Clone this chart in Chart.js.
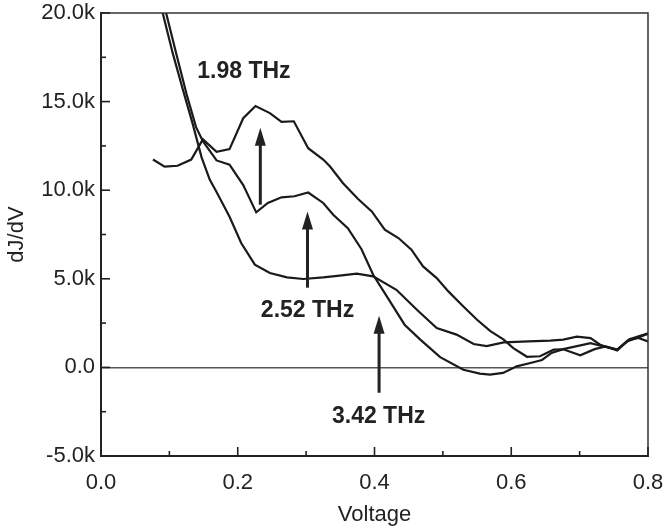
<!DOCTYPE html>
<html>
<head>
<meta charset="utf-8">
<script src="https://cdn.jsdelivr.net/npm/chart.js@4.4.0/dist/chart.umd.min.js"></script>
<style>
  html, body { margin: 0; padding: 0; background: #fff; }
  #chart { display: block; }
</style>
</head>
<body>
<canvas id="chart" width="666" height="530"></canvas>
<script>
// ---------- data ----------
// 1.98 THz
const voltA = [0.076, 0.093, 0.112, 0.132, 0.149, 0.169, 0.188, 0.208, 0.226, 0.247, 0.264, 0.282, 0.303, 0.325,
  0.335, 0.354, 0.376, 0.396, 0.415, 0.435, 0.454, 0.471, 0.491, 0.508, 0.530, 0.550, 0.569, 0.589, 0.603, 0.623,
  0.642, 0.662, 0.676, 0.701, 0.722, 0.738, 0.755, 0.772, 0.786, 0.800];
const dJdVA = [11730, 11330, 11380, 11730, 12870, 12170, 12320, 14060, 14750, 14350, 13860, 13890, 12370, 11730,
  11340, 10390, 9500, 8800, 7770, 7300, 6640, 5700, 5040, 4290, 3440, 2690, 2060, 1570, 1090, 600,
  630, 1000, 1020, 680, 1030, 1180, 1000, 1570, 1660, 1470];

// 2.52 THz
const voltB = [0.092, 0.110, 0.125, 0.139, 0.149, 0.169, 0.188, 0.208, 0.227, 0.244, 0.264, 0.283, 0.303, 0.325,
  0.340, 0.361, 0.381, 0.398, 0.421, 0.444, 0.467, 0.496, 0.530, 0.554, 0.569, 0.588, 0.608, 0.628, 0.645, 0.659,
  0.676, 0.716, 0.735, 0.755, 0.774, 0.800];
const dJdVB = [20500, 17720, 15440, 13560, 12770, 11680, 11440, 10290, 8750, 9280, 9600, 9660, 9870, 9280,
  8600, 7860, 6670, 5230, 3820, 2410, 1570, 580, -130, -350, -410, -310, 60, 250, 420, 820,
  1030, 1370, 1180, 1000, 1600, 1920];

// 3.42 THz
const voltC = [0.087, 0.105, 0.120, 0.134, 0.147, 0.159, 0.169, 0.188, 0.205, 0.225, 0.247, 0.272, 0.296, 0.325,
  0.349, 0.374, 0.398, 0.432, 0.462, 0.491, 0.520, 0.545, 0.564, 0.589, 0.625, 0.657, 0.676, 0.696, 0.716, 0.730,
  0.755, 0.769, 0.784, 0.800];
const dJdVC = [20500, 17720, 15640, 13760, 11870, 10600, 9900, 8500, 7020, 5800, 5330, 5080, 4990, 5080,
  5180, 5290, 5140, 4380, 3250, 2220, 1850, 1320, 1200, 1410, 1470, 1510, 1570, 1740, 1650, 1280,
  960, 1470, 1660, 1890];

// annotations, in data units
const noteText = ['1.98 THz', '2.52 THz', '3.42 THz'];
const noteX = [0.209, 0.302, 0.406];
const noteY = [16700, 3200, -2770];
const arrowX = [0.233, 0.302, 0.4067];
const arrowFrom = [9180, 4500, -1430];
const arrowTo = [13530, 8800, 2920];

const FONT = '"Liberation Sans", Arial, Helvetica, sans-serif';
const INK = '#222';

const pairs = (xs, ys) => xs.map((v, i) => ({ x: v, y: ys[i] }));
const lineSet = (xs, ys) => ({
  data: pairs(xs, ys),
  borderColor: '#1a1a1a',
  borderWidth: 2.2,
  pointRadius: 0,
  tension: 0,
  fill: false,
});

// ---------- frame, inward ticks, arrows, labels ----------
const decorations = {
  id: 'decorations',
  afterDraw(chart) {
    const { ctx, chartArea: a, scales: { x, y } } = chart;
    ctx.save();
    ctx.strokeStyle = '#333';
    ctx.lineWidth = 1.5;
    ctx.beginPath();
    ctx.moveTo(a.left, a.top);
    ctx.lineTo(a.right, a.top);
    ctx.lineTo(a.right, a.bottom);
    ctx.stroke();

    ctx.strokeStyle = INK;
    ctx.lineWidth = 1.6;
    y.ticks.forEach((t) => {
      const p = y.getPixelForValue(t.value);
      const len = Math.round(t.value) % 5000 === 0 ? 9 : 5;
      ctx.beginPath();
      ctx.moveTo(a.left, p);
      ctx.lineTo(a.left + len, p);
      ctx.stroke();
    });
    x.ticks.forEach((t) => {
      const p = x.getPixelForValue(t.value);
      const len = Math.round(t.value * 10) % 2 === 0 ? 9 : 5;
      ctx.beginPath();
      ctx.moveTo(p, a.bottom);
      ctx.lineTo(p, a.bottom - len);
      ctx.stroke();
    });

    // arrows
    ctx.fillStyle = INK;
    ctx.lineWidth = 3;
    arrowX.forEach((v, i) => {
      const px = x.getPixelForValue(v);
      const y0 = y.getPixelForValue(arrowFrom[i]);
      const y1 = y.getPixelForValue(arrowTo[i]);
      ctx.beginPath();
      ctx.moveTo(px, y0);
      ctx.lineTo(px, y1 + 12);
      ctx.stroke();
      ctx.beginPath();
      ctx.moveTo(px, y1);
      ctx.lineTo(px - 5.5, y1 + 18);
      ctx.lineTo(px + 5.5, y1 + 18);
      ctx.closePath();
      ctx.fill();
    });

    // labels
    ctx.font = 'bold 23px ' + FONT;
    ctx.textAlign = 'center';
    ctx.textBaseline = 'middle';
    noteText.forEach((s, i) => {
      ctx.fillText(s, x.getPixelForValue(noteX[i]), y.getPixelForValue(noteY[i]));
    });
    ctx.restore();
  },
};

new Chart(document.getElementById('chart'), {
  type: 'line',
  data: {
    datasets: [lineSet(voltA, dJdVA), lineSet(voltB, dJdVB), lineSet(voltC, dJdVC)],
  },
  options: {
    responsive: false,
    animation: false,
    layout: { padding: { top: 13, right: 18, left: 0, bottom: 0 } },
    plugins: { legend: { display: false }, tooltip: { enabled: false } },
    scales: {
      x: {
        type: 'linear',
        min: 0,
        max: 0.8,
        afterFit: (s) => { s.height = 74; s.paddingLeft = 0; s.paddingRight = 0; },
        ticks: {
          stepSize: 0.1,
          padding: 14,
          color: INK,
          font: { family: FONT, size: 22 },
          maxRotation: 0,
          autoSkip: false,
          callback: (v) => (Math.round(v * 10) % 2 === 0 ? v.toFixed(1) : ''),
        },
        grid: { display: false, drawTicks: false },
        border: { display: true, color: INK, width: 2 },
        title: {
          display: true,
          text: 'Voltage',
          color: INK,
          font: { family: FONT, size: 22 },
          padding: { top: 0, bottom: 2 },
        },
      },
      y: {
        type: 'linear',
        min: -5000,
        max: 20000,
        afterFit: (s) => { s.width = 101; s.paddingTop = 0; s.paddingBottom = 0; },
        ticks: {
          stepSize: 2500,
          padding: 6,
          color: INK,
          font: { family: FONT, size: 22 },
          autoSkip: false,
          callback: (v) => {
            if (Math.round(v) % 5000 !== 0) return '';
            return v === 0 ? '0.0' : (v / 1000).toFixed(1) + 'k';
          },
        },
        grid: {
          drawTicks: false,
          color: (c) => (c.tick && c.tick.value === 0 ? '#555' : 'rgba(0,0,0,0)'),
          lineWidth: 1.5,
        },
        border: { display: true, color: INK, width: 2 },
        title: {
          display: true,
          text: 'dJ/dV',
          color: INK,
          font: { family: FONT, size: 22 },
          padding: { top: 4, bottom: 0 },
        },
      },
    },
  },
  plugins: [decorations],
});
</script>
</body>
</html>
